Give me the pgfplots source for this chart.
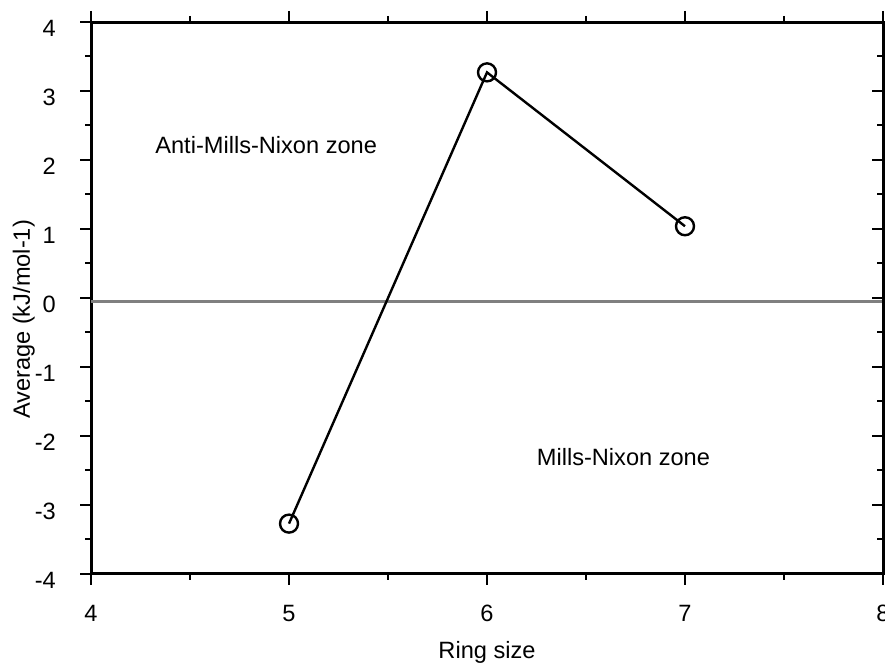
\documentclass[border=0pt]{standalone}
\usepackage{pgfplots}
\pgfplotsset{compat=1.18}
\usepackage{fontspec}
\setmainfont{Liberation Sans}
\begin{document}
\fontsize{11.8}{13}\selectfont
\begin{tikzpicture}
\begin{axis}[name=ax, scale only axis, width=396pt, height=276pt,
  xmin=4, xmax=8, ymin=-4, ymax=4,
  xtick={4,5,6,7,8}, ytick={-4,-3,-2,-1,0,1,2,3,4},
  minor x tick num=1, minor y tick num=1,
  tick align=outside, major tick length=5.5pt, minor tick length=3pt,
  ytick pos=left,
  axis line style={line width=1.5pt},
  every tick/.style={black, line width=1pt},
  /pgf/number format/assume math mode=true,
  yticklabel style={yshift=-3pt, xshift=-8pt},
  xticklabel style={yshift=-6pt},
  xlabel={Ring size}, ylabel={Average (kJ/mol-1)},
  xlabel style={at={(axis description cs:0.5,-0.1525)}, anchor=base},
  ylabel style={at={(axis description cs:-0.085,0.461)}, anchor=center},
  clip=false]
\addplot[color={rgb,255:red,128;green,128;blue,128}, line width=1.5pt, forget plot] coordinates {(4,-0.05) (8,-0.05)};
\addplot[black, line width=1.2pt, mark=o, mark size=4.5pt, mark options={fill=white, line width=1.2pt}] coordinates {(5,-3.27) (6,3.27) (7,1.04)};
\node[anchor=base west, inner sep=0pt] at (axis cs:4.323,2.10) {Anti-Mills-Nixon zone};
\node[anchor=base west, inner sep=0pt] at (axis cs:6.25,-2.43) {Mills-Nixon zone};
\end{axis}
\begin{axis}[scale only axis, width=396pt, height=276pt,
  xmin=4, xmax=8, ymin=-4, ymax=4,
  axis x line=none, axis y line*=right,
  ytick={-4,-3,-2,-1,0,1,2,3,4}, minor y tick num=1, yticklabels={},
  tick align=inside, major tick length=5.5pt, minor tick length=3pt,
  axis line style={line width=1.5pt},
  every tick/.style={black, line width=1pt}]
\end{axis}
\pgfresetboundingbox
\path ([shift={(-45.5pt,-45.5pt)}]ax.south west) rectangle ([shift={(1pt,11pt)}]ax.north east);
\end{tikzpicture}
\end{document}
